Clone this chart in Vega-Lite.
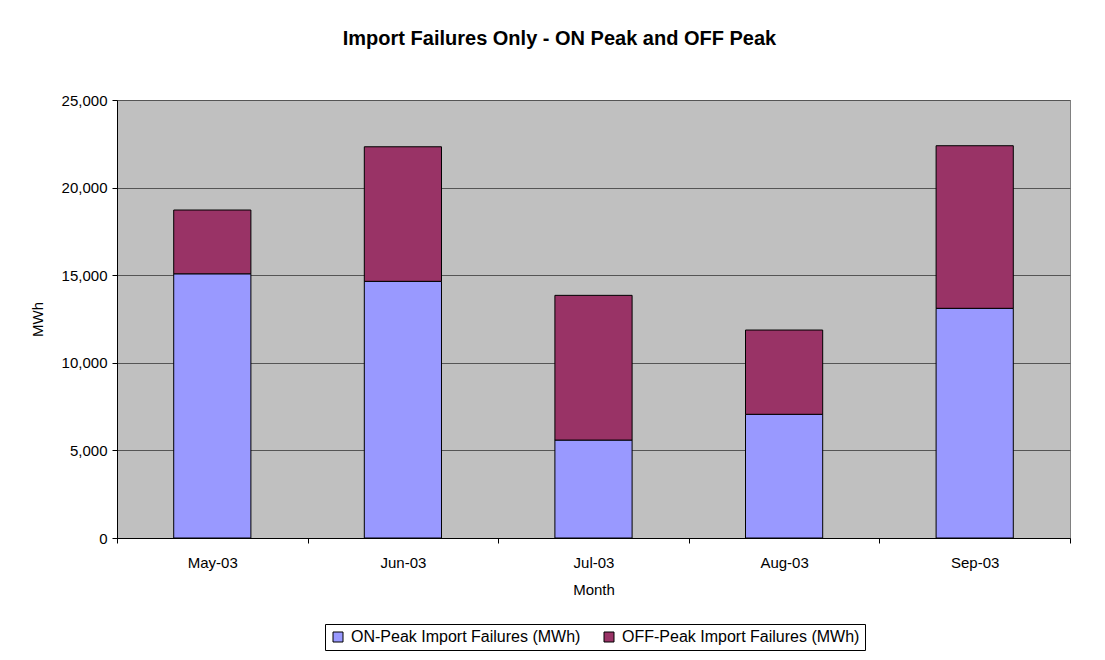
{
  "$schema": "https://vega.github.io/schema/vega-lite/v6.json",
  "autosize": {"type": "none"},
  "width": 953,
  "height": 438,
  "padding": {"left": 117, "top": 100, "right": 35, "bottom": 122},
  "background": "white",
  "title": {
    "text": "Import Failures Only - ON Peak and OFF Peak",
    "font": "Liberation Sans",
    "fontSize": 20,
    "fontWeight": "bold",
    "color": "black",
    "anchor": "middle",
    "frame": "group",
    "dx": -34,
    "offset": 44
  },
  "data": {
    "values": [
      {"month": "May-03", "series": "ON-Peak Import Failures (MWh)", "mwh": 15080},
      {"month": "May-03", "series": "OFF-Peak Import Failures (MWh)", "mwh": 3640},
      {"month": "Jun-03", "series": "ON-Peak Import Failures (MWh)", "mwh": 14650},
      {"month": "Jun-03", "series": "OFF-Peak Import Failures (MWh)", "mwh": 7680},
      {"month": "Jul-03", "series": "ON-Peak Import Failures (MWh)", "mwh": 5590},
      {"month": "Jul-03", "series": "OFF-Peak Import Failures (MWh)", "mwh": 8260},
      {"month": "Aug-03", "series": "ON-Peak Import Failures (MWh)", "mwh": 7060},
      {"month": "Aug-03", "series": "OFF-Peak Import Failures (MWh)", "mwh": 4810},
      {"month": "Sep-03", "series": "ON-Peak Import Failures (MWh)", "mwh": 13110},
      {"month": "Sep-03", "series": "OFF-Peak Import Failures (MWh)", "mwh": 9280}
    ]
  },
  "mark": {"type": "bar", "width": {"band": 0.405}, "stroke": "black", "strokeWidth": 1},
  "encoding": {
    "x": {
      "field": "month",
      "type": "nominal",
      "sort": null,
      "scale": {"paddingInner": 0, "paddingOuter": 0},
      "axis": {
        "title": "Month",
        "labelAngle": 0,
        "tickBand": "extent",
        "tickSize": 5,
        "tickColor": "black",
        "domainColor": "black",
        "labelPadding": 12,
        "labelFontSize": 15,
        "labelFont": "Liberation Sans",
        "labelColor": "black",
        "titleFont": "Liberation Sans",
        "titleFontSize": 15,
        "titleFontWeight": "normal",
        "titleColor": "black",
        "titlePadding": 12
      }
    },
    "y": {
      "field": "mwh",
      "type": "quantitative",
      "stack": "zero",
      "scale": {"domain": [0, 25000], "nice": false},
      "axis": {
        "title": "MWh",
        "values": [0, 5000, 10000, 15000, 20000, 25000],
        "format": ",d",
        "grid": true,
        "gridColor": "#555555",
        "gridWidth": 1,
        "tickSize": 5,
        "tickColor": "black",
        "domainColor": "black",
        "labelPadding": 5,
        "labelFontSize": 15,
        "labelFont": "Liberation Sans",
        "labelColor": "black",
        "titleFont": "Liberation Sans",
        "titleFontSize": 15,
        "titleFontWeight": "normal",
        "titleColor": "black",
        "titlePadding": 16
      }
    },
    "color": {
      "field": "series",
      "type": "nominal",
      "scale": {
        "domain": ["ON-Peak Import Failures (MWh)", "OFF-Peak Import Failures (MWh)"],
        "range": ["#9999FF", "#993366"]
      },
      "legend": {
        "title": null,
        "orient": "none",
        "legendX": 208,
        "legendY": 524,
        "direction": "horizontal",
        "strokeColor": "black",
        "padding": 5,
        "symbolType": "square",
        "symbolSize": 100,
        "symbolStrokeColor": "black",
        "symbolStrokeWidth": 1,
        "symbolOpacity": 1,
        "labelFont": "Liberation Sans",
        "labelFontSize": 16,
        "labelLimit": 0,
        "labelColor": "black",
        "labelOffset": 5,
        "columnPadding": 20
      }
    },
    "order": {"field": "series", "sort": "descending"}
  },
  "config": {
    "view": {"fill": "#C0C0C0", "stroke": "#808080", "strokeWidth": 1},
    "axis": {"gridOpacity": 1}
  }
}
